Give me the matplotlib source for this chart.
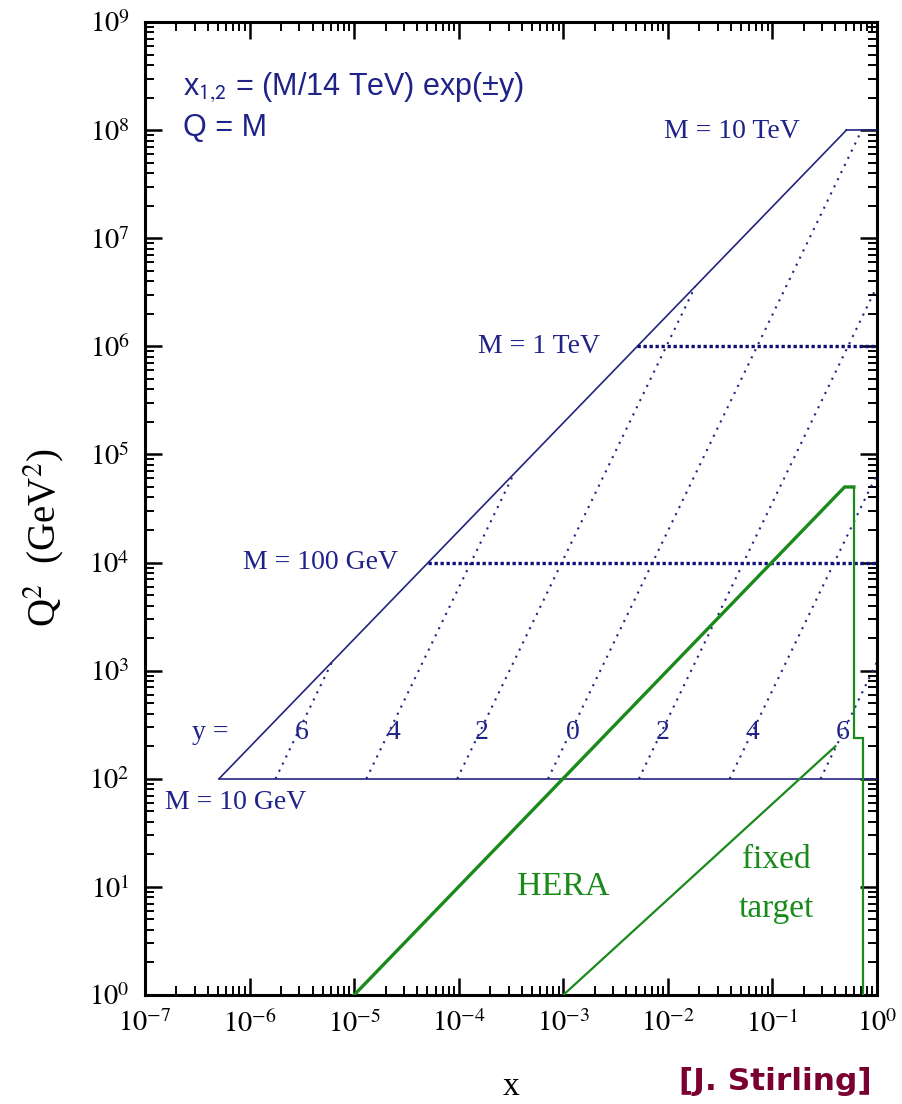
import numpy as np
import matplotlib
matplotlib.use("Agg")
import matplotlib.pyplot as plt
from matplotlib.ticker import LogLocator, FuncFormatter, NullFormatter

plt.rcParams['font.family'] = ['Liberation Serif', 'DejaVu Serif']
plt.rcParams['mathtext.fontset'] = 'stix'

# ---------------- data ----------------
sqrt_s_lhc = 14000.0                      # GeV
mass_values = [10, 100, 1000, 10000]      # GeV, Q = M
mass_labels = ["M = 10 GeV", "M = 100 GeV", "M = 1 TeV", "M = 10 TeV"]
rapidities = [6, 4, 2, 0]
rap_label_text = ["6", "4", "2", "0", "2", "4", "6"]
rap_label_x = [3.17e-6, 2.35e-5, 1.67e-4, 1.24e-3, 8.95e-3, 6.5e-2, 0.47]
rap_label_q2 = [2.7e2] * 7

hera_x = [1e-5, 0.49, 0.60, 0.60, 0.73, 0.73]
hera_q2 = [1.0, 5.0e4, 5.0e4, 2.38e2, 2.38e2, 1.0]
fixed_target_x = [1e-3, 0.40]
fixed_target_q2 = [1.0, 2.0e2]

xlim = (1e-7, 1.0)
ylim = (1.0, 1e9)

# ---------------- style ----------------
navy = '#24247f'
navy_txt = '#1f2388'
dark_navy = '#10107a'
green = '#1a8a1a'

fig = plt.figure(figsize=(9.02, 11.04), dpi=100)
ax = fig.add_axes([145/902, 1-995/1104, 732/902, 973/1104])
ax.set_xscale('log')
ax.set_yscale('log')
ax.set_xlim(*xlim)
ax.set_ylim(*ylim)

s = sqrt_s_lhc ** 2
m_lo, m_hi = mass_values[0], mass_values[-1]

# upper diagonal kinematic limit (x = M^2/s)
ax.plot([m_lo**2 / s, m_hi**2 / s], [m_lo**2, m_hi**2], color=navy, lw=1.2, zorder=3)

# constant-mass lines
for i, m in enumerate(mass_values):
    xs = [m**2 / s, 1.0]
    qs = [m**2, m**2]
    if i in (0, len(mass_values) - 1):
        ax.plot(xs, qs, color=navy, lw=1.2, zorder=3)
    else:
        ax.plot(xs, qs, color=dark_navy, lw=2.4, ls=(0, (1.0, 0.8)), zorder=3)

# constant-rapidity lines: x = (M/14 TeV) exp(+-y), Q = M
for yv in rapidities:
    m_max = min(sqrt_s_lhc * np.exp(-yv), m_hi)
    ms = np.array([m_lo, m_max])
    signs = [-1, 1] if yv > 0 else [1]
    for sg in signs:
        xs = ms / sqrt_s_lhc * np.exp(sg * yv)
        ax.plot(xs, ms**2, color=navy, lw=1.5, ls=(0, (1.0, 2.8)), zorder=2)

# HERA and fixed target
ax.plot(hera_x[:3], hera_q2[:3], color=green, lw=2.4, zorder=4, solid_joinstyle='miter')
ax.plot(hera_x[2:], hera_q2[2:], color=green, lw=1.6, zorder=4, solid_joinstyle='miter')
ax.plot(fixed_target_x, fixed_target_q2, color=green, lw=1.6, zorder=4)

# ---------------- axes styling ----------------
for sp in ax.spines.values():
    sp.set_linewidth(2.2)
ax.xaxis.set_major_locator(LogLocator(base=10, numticks=20))
ax.yaxis.set_major_locator(LogLocator(base=10, numticks=20))
ax.xaxis.set_minor_locator(LogLocator(base=10, subs=np.arange(2, 10), numticks=200))
ax.yaxis.set_minor_locator(LogLocator(base=10, subs=np.arange(2, 10), numticks=200))
fmt = FuncFormatter(lambda v, p: r'$\mathrm{10}^{\mathrm{%d}}$' % int(round(np.log10(v))))
ax.xaxis.set_major_formatter(fmt)
ax.yaxis.set_major_formatter(fmt)
ax.xaxis.set_minor_formatter(NullFormatter())
ax.yaxis.set_minor_formatter(NullFormatter())
ax.tick_params(which='both', direction='in', top=True, right=True, colors='black')
ax.tick_params(which='major', length=12, width=1.8, labelsize=20.5, pad=11)
ax.tick_params(which='minor', length=6.5, width=1.4)
ax.xaxis.label.set_visible(False)
ax.yaxis.label.set_visible(False)
ax.xaxis.get_offset_text().set_visible(False)
ax.yaxis.get_offset_text().set_visible(False)

# ---------------- texts ----------------
ax.text(0.052, 0.933, r'x$_{\mathsf{1{,}2}}$ = (M/14 TeV) exp(±y)', transform=ax.transAxes,
        family='Liberation Sans', fontsize=22, color=navy_txt, ha='left', va='center')
ax.text(0.052, 0.891, 'Q = M', transform=ax.transAxes,
        family='Liberation Sans', fontsize=22, color=navy_txt, ha='left', va='center')

lab_fs = 20
ax.text(0.183, 10**7.99, mass_labels[3], color=navy_txt, fontsize=lab_fs, ha='right', va='center')
ax.text(2.24e-3, 10**6.0, mass_labels[2], color=navy_txt, fontsize=lab_fs, ha='right', va='center')
ax.text(2.62e-5, 10**4.0, mass_labels[1], color=navy_txt, fontsize=lab_fs, ha='right', va='center')
ax.text(1.55e-7, 10**1.78, mass_labels[0], color=navy_txt, fontsize=lab_fs, ha='left', va='center')

ax.text(6.3e-7, 10**2.43, 'y =', color=navy_txt, fontsize=20, ha='right', va='center')
for t, xv, qv in zip(rap_label_text, rap_label_x, rap_label_q2):
    ax.text(xv, qv, t, color=navy_txt, fontsize=20, ha='center', va='center')

ax.text(1.0e-3, 10**1.0, 'HERA', color=green, fontsize=24.5, ha='center', va='center')
ax.text(0.108, 10**1.25, 'fixed', color=green, fontsize=24, ha='center', va='center')
ax.text(0.108, 10**0.80, 'target', color=green, fontsize=24, ha='center', va='center')

fig.text(44/902, 1-538/1104, r'Q$^{2}$  (GeV$^{2}$)', rotation=90, fontsize=28,
         ha='center', va='center')
fig.text(511/902, 1-1095/1104, 'x', fontsize=24, ha='center', va='baseline')
fig.text(872/902, 1-1082/1104, '[J. Stirling]', family='DejaVu Sans', fontweight='bold',
         fontsize=22.5, color='#7a0030', ha='right', va='center')

fig.savefig('out.png', dpi=100)
